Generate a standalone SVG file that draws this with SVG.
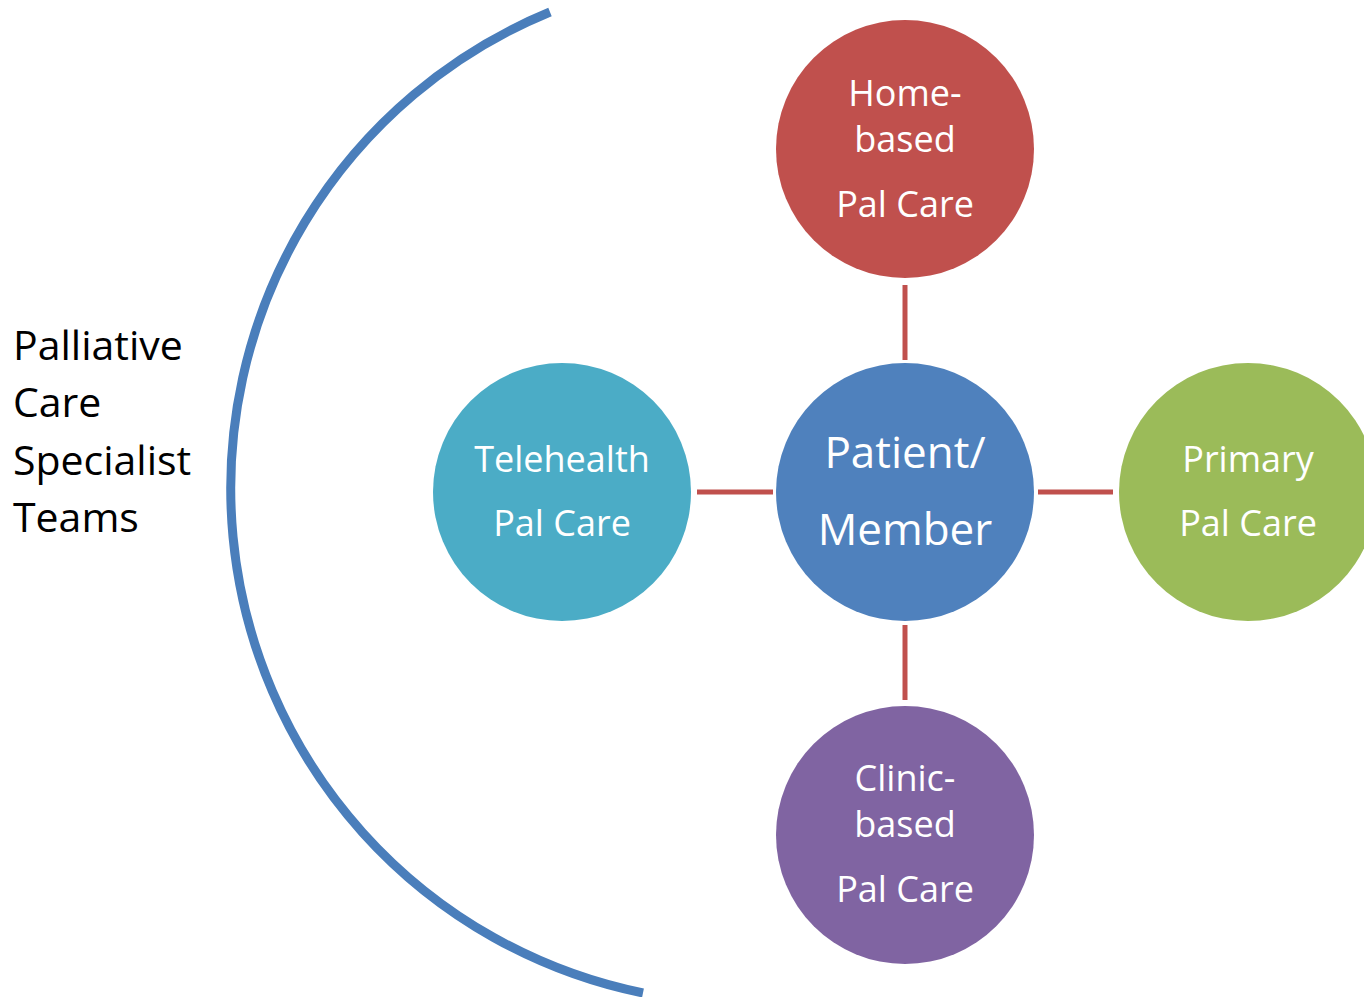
<svg xmlns="http://www.w3.org/2000/svg" width="1364" height="997" viewBox="0 0 1364 997">
  <style>
    .lbl { font-family: "Open Sans", "Noto Sans", sans-serif; fill: #ffffff; text-anchor: middle; font-size: 36px; }
    .big { font-size: 44px; }
    .side { font-family: "Open Sans", "Noto Sans", sans-serif; fill: #000000; font-size: 41px; }
    .link { stroke: #C0504D; stroke-width: 5; fill: none; }
  </style>
  <rect width="1364" height="997" fill="#ffffff"/>

  <!-- Specialist team bracket -->
  <g id="specialist-arc">
    <path d="M 550 12 A 515 515 0 0 0 643 993" fill="none" stroke="#4A7EBB" stroke-width="9"/>
    <text class="side" x="13" y="360">Palliative</text>
    <text class="side" x="13" y="417">Care</text>
    <text class="side" x="13" y="475">Specialist</text>
    <text class="side" x="13" y="532">Teams</text>
  </g>

  <!-- connectors -->
  <g id="connectors">
    <line class="link" x1="905" y1="285" x2="905" y2="360"/>
    <line class="link" x1="697" y1="492" x2="773" y2="492"/>
    <line class="link" x1="1038" y1="492" x2="1113" y2="492"/>
    <line class="link" x1="905" y1="625" x2="905" y2="700"/>
  </g>

  <g id="home-based">
    <circle cx="905" cy="149" r="129" fill="#C0504D"/>
    <text class="lbl" x="905" y="106">Home-</text>
    <text class="lbl" x="905" y="152">based</text>
    <text class="lbl" x="905" y="217">Pal Care</text>
  </g>

  <g id="patient">
    <circle cx="905" cy="492" r="129" fill="#4F81BD"/>
    <text class="lbl big" x="905" y="468">Patient/</text>
    <text class="lbl big" x="905" y="545">Member</text>
  </g>

  <g id="telehealth">
    <circle cx="562" cy="492" r="129" fill="#4BACC6"/>
    <text class="lbl" x="562" y="472">Telehealth</text>
    <text class="lbl" x="562" y="536">Pal Care</text>
  </g>

  <g id="primary">
    <circle cx="1248" cy="492" r="129" fill="#9BBB59"/>
    <text class="lbl" x="1248" y="472">Primary</text>
    <text class="lbl" x="1248" y="536">Pal Care</text>
  </g>

  <g id="clinic-based">
    <circle cx="905" cy="835" r="129" fill="#8064A2"/>
    <text class="lbl" x="905" y="791">Clinic-</text>
    <text class="lbl" x="905" y="837">based</text>
    <text class="lbl" x="905" y="902">Pal Care</text>
  </g>
</svg>
